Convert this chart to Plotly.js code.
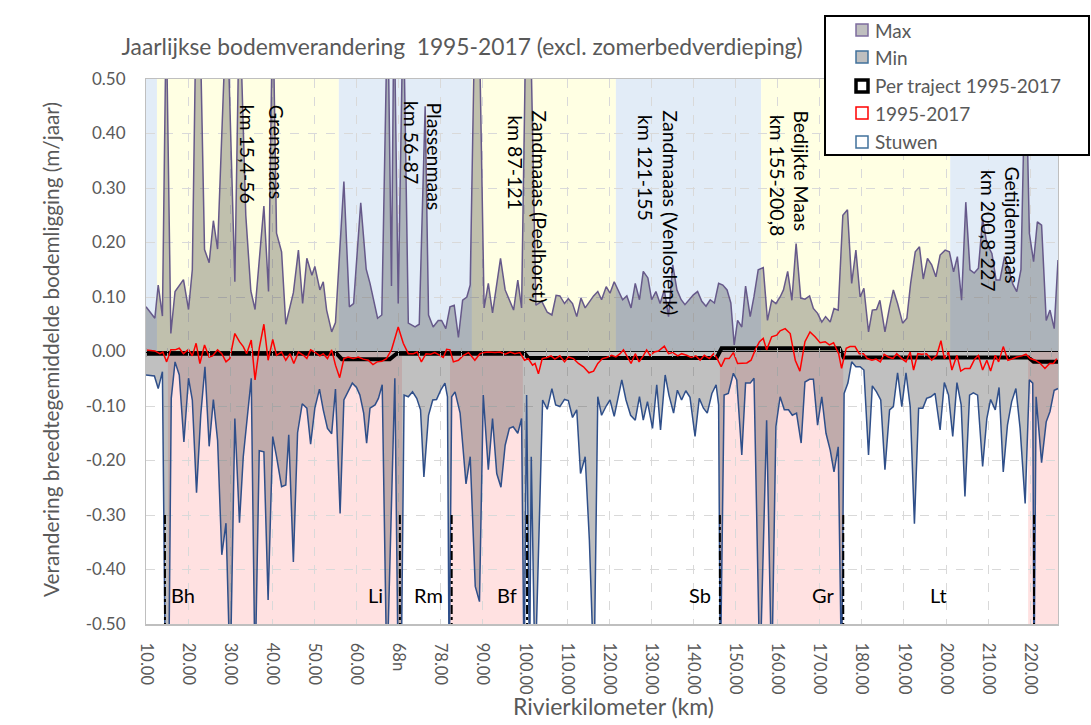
<!DOCTYPE html>
<html><head><meta charset="utf-8">
<script src="https://cdn.plot.ly/plotly-3.0.1.min.js"></script>
<style>html,body{margin:0;padding:0;background:#fff;}#chart{width:1091px;height:725px;}</style>
</head><body><div id="chart"></div>
<script>
// ---- Data (x = position along the category axis, in km-like units) ----
const maxKm = [10.0,12.1,12.9,13.9,14.8,15.9,16.9,17.9,18.9,20.1,21.0,22.0,22.8,23.9,25.0,26.0,27.0,29.2,31.1,32.2,33.7,34.9,35.9,38.0,39.1,40.1,41.0,42.2,43.2,45.0,46.2,47.2,48.2,49.4,50.1,51.3,52.1,52.9,54.1,55.0,57.0,58.3,59.3,61.0,62.3,63.2,65.0,66.0,67.4,68.3,68.9,69.9,71.1,72.3,73.9,74.9,76.3,77.1,78.2,79.4,80.2,81.2,82.2,83.2,84.2,85.2,86.2,87.0,88.6,90.3,91.3,92.3,94.2,95.3,96.3,97.3,98.3,99.2,100.7,102.6,104.0,105.3,106.4,107.4,108.3,109.4,110.3,111.3,112.3,113.3,114.3,115.3,116.3,117.3,118.2,119.3,120.2,121.2,122.2,123.2,124.2,125.2,126.2,127.2,128.1,129.2,130.1,131.1,132.1,133.1,134.1,135.1,136.1,137.1,138.0,139.1,140.0,141.0,142.0,143.0,144.0,145.0,146.0,147.0,148.0,148.9,149.7,150.5,151.5,152.4,153.5,154.4,155.4,156.6,157.6,158.6,159.6,160.6,161.4,162.4,163.4,164.4,165.5,166.5,167.6,168.5,169.5,170.5,171.4,172.5,173.4,174.4,175.5,176.6,177.6,178.6,179.6,180.5,181.6,182.5,183.5,184.3,185.5,186.6,187.5,188.5,189.7,190.7,191.6,192.7,193.7,194.6,195.6,196.6,197.6,198.6,199.8,200.8,201.8,202.7,203.7,204.7,205.7,206.7,207.7,208.7,209.7,210.9,211.9,212.8,213.9,214.8,215.9,216.8,217.8,218.9,219.8,220.8,221.7,222.7,223.8,224.7,225.7,226.6];
const maxVal = [0.082,0.061,0.122,0.065,0.62,0.033,0.110,0.122,0.132,0.077,0.150,0.68,0.62,0.187,0.163,0.240,0.188,0.65,0.128,0.65,0.25,0.111,0.077,0.267,0.110,0.65,0.217,0.183,0.050,0.108,0.186,0.088,0.171,0.140,0.156,0.113,0.128,0.076,0.036,0.053,0.312,0.082,0.088,0.273,0.151,0.125,0.061,0.067,0.65,0.12,0.65,0.088,0.65,0.052,0.045,0.050,0.450,0.067,0.045,0.057,0.057,0.042,0.082,0.085,0.026,0.094,0.100,0.122,0.85,0.080,0.125,0.071,0.171,0.113,0.095,0.076,0.131,0.080,0.85,0.085,0.092,0.072,0.067,0.103,0.102,0.088,0.097,0.088,0.064,0.098,0.080,0.092,0.102,0.110,0.095,0.119,0.107,0.128,0.113,0.095,0.102,0.080,0.125,0.095,0.147,0.135,0.095,0.110,0.088,0.113,0.064,0.159,0.113,0.095,0.086,0.095,0.104,0.110,0.092,0.083,0.095,0.089,0.125,0.122,0.113,0.089,0.012,0.057,0.045,0.120,0.064,0.101,0.150,0.154,0.057,0.094,0.088,0.100,0.113,0.147,0.094,0.198,0.098,0.096,0.102,0.079,0.070,0.054,0.064,0.054,0.079,0.076,0.250,0.260,0.125,0.186,0.100,0.116,0.036,0.076,0.077,0.094,0.036,0.082,0.113,0.088,0.052,0.061,0.125,0.183,0.192,0.133,0.171,0.159,0.137,0.177,0.186,0.183,0.146,0.174,0.094,0.274,0.150,0.144,0.153,0.244,0.198,0.180,0.131,0.131,0.174,0.153,0.123,0.110,0.150,0.55,0.217,0.165,0.238,0.232,0.057,0.076,0.042,0.168];

const minKm = [10.0,11.2,12.0,12.9,13.9,14.6,15.4,16.0,16.9,17.9,19.0,20.1,21.0,22.0,23.0,24.0,25.0,26.0,27.0,28.0,29.0,30.0,31.1,32.2,33.1,35.0,35.9,36.9,38.0,39.0,40.1,41.0,42.2,43.2,43.9,45.0,46.0,47.1,48.2,49.1,50.1,51.2,52.1,53.1,54.1,55.0,56.1,57.0,58.0,59.0,60.0,60.8,61.7,62.4,63.2,64.4,65.2,66.1,67.2,69.1,69.9,70.6,71.3,72.3,73.3,74.3,75.2,76.0,77.1,78.1,79.0,80.0,81.0,81.6,82.0,82.6,83.4,84.6,86.0,87.0,88.2,89.2,90.1,91.3,92.3,93.3,94.3,95.3,96.3,97.2,98.3,99.2,99.8,100.4,101.1,101.5,102.4,104.2,105.3,106.4,107.3,108.3,109.4,110.3,111.3,112.3,113.2,114.3,115.3,116.4,117.3,118.2,119.3,120.2,121.2,122.2,123.0,124.0,125.1,126.2,127.2,128.1,129.1,130.3,131.3,132.2,133.3,134.2,135.3,136.2,137.2,138.2,139.2,140.4,141.4,142.4,143.3,144.4,145.4,146.0,146.4,147.3,148.3,149.5,150.3,151.5,152.4,153.5,154.4,155.8,157.4,158.6,159.6,160.6,161.6,162.6,163.5,164.5,165.6,166.5,167.6,168.5,169.5,170.5,171.5,172.5,173.4,174.4,175.2,175.8,176.7,177.6,178.6,179.6,180.5,181.6,182.5,183.5,184.5,185.5,186.6,187.5,188.5,189.5,190.5,191.5,192.5,193.5,194.5,195.4,196.4,197.4,198.6,199.6,200.6,201.6,202.6,203.6,204.5,205.6,206.5,207.5,208.7,209.7,210.6,211.7,212.6,213.6,214.6,215.6,216.6,217.6,218.8,219.8,220.6,220.9,221.4,222.7,223.8,224.7,225.7,226.6];
const minVal = [-0.043,-0.045,-0.045,-0.068,-0.037,-0.6,-0.6,-0.086,-0.019,-0.043,-0.166,-0.049,-0.089,-0.259,-0.117,-0.028,-0.174,-0.088,-0.163,-0.373,-0.315,-0.6,-0.123,-0.314,-0.193,-0.049,-0.6,-0.182,-0.184,-0.456,-0.156,-0.193,-0.248,-0.245,-0.153,-0.386,-0.149,-0.096,-0.104,-0.170,-0.104,-0.069,-0.107,-0.141,-0.151,-0.069,-0.297,-0.089,-0.074,-0.058,-0.066,-0.080,-0.113,-0.168,-0.104,-0.098,-0.086,-0.061,-0.6,-0.049,-0.6,-0.6,-0.080,-0.083,-0.074,-0.086,-0.107,-0.230,-0.117,-0.089,-0.088,-0.071,-0.058,-0.083,-0.6,-0.083,-0.074,-0.113,-0.243,-0.193,-0.431,-0.459,-0.080,-0.217,-0.123,-0.224,-0.249,-0.172,-0.141,-0.138,-0.150,-0.123,-0.6,-0.080,-0.6,-0.193,-0.6,-0.089,-0.106,-0.068,-0.098,-0.101,-0.088,-0.090,-0.121,-0.107,-0.224,-0.193,-0.346,-0.6,-0.083,-0.117,-0.100,-0.089,-0.119,-0.083,-0.052,-0.089,-0.117,-0.126,-0.083,-0.126,-0.092,-0.141,-0.061,-0.144,-0.043,-0.080,-0.113,-0.071,-0.089,-0.072,-0.084,-0.156,-0.086,-0.104,-0.113,-0.077,-0.061,-0.098,-0.6,-0.080,-0.077,-0.040,-0.052,-0.190,-0.058,-0.058,-0.049,-0.6,-0.126,-0.6,-0.138,-0.083,-0.107,-0.107,-0.117,-0.113,-0.168,-0.056,-0.051,-0.051,-0.135,-0.083,-0.150,-0.181,-0.221,-0.175,-0.6,-0.077,-0.058,-0.019,-0.028,-0.028,-0.034,-0.190,-0.063,-0.074,-0.089,-0.217,-0.107,-0.101,-0.039,-0.101,-0.039,-0.101,-0.316,-0.104,-0.104,-0.086,-0.083,-0.077,-0.144,-0.057,-0.080,-0.156,-0.057,-0.098,-0.266,-0.080,-0.076,-0.080,-0.211,-0.123,-0.088,-0.107,-0.066,-0.221,-0.135,-0.092,-0.068,-0.141,-0.279,-0.052,-0.058,-0.6,-0.083,-0.204,-0.129,-0.110,-0.071,-0.068];

const redKm = [10.0,12.1,13.3,14.0,14.9,15.9,16.9,17.9,18.9,20.1,21.0,21.9,22.8,23.9,25.0,25.8,27.0,28.0,29.0,29.9,31.1,32.2,33.1,33.9,35.0,35.9,36.9,38.0,39.0,40.1,41.0,42.2,43.2,44.2,45.1,46.2,47.4,48.2,49.1,50.1,51.3,52.1,53.1,54.1,55.0,56.0,57.0,58.0,59.2,60.4,61.6,62.8,63.9,64.9,66.0,67.1,68.3,69.9,71.1,72.3,73.5,74.4,75.4,76.5,77.6,78.6,79.8,80.6,81.4,82.2,83.0,84.2,85.4,86.6,88.1,89.3,90.4,91.3,92.9,94.1,95.3,96.5,97.6,98.8,99.9,100.8,101.8,102.4,103.2,104.1,105.2,106.2,107.1,108.3,109.4,110.3,111.5,112.7,113.9,115.2,116.3,117.3,118.4,119.4,120.6,121.6,122.6,123.4,124.4,125.2,126.2,127.1,128.1,128.9,129.7,130.7,131.7,133.1,134.1,135.1,136.3,137.2,138.4,139.5,140.6,141.6,142.6,143.8,144.8,145.5,146.6,147.5,148.5,149.5,150.5,151.5,152.7,153.7,154.7,155.7,156.6,157.4,158.6,159.8,160.6,161.8,163.0,164.2,165.3,166.5,167.7,168.9,170.1,171.3,172.3,173.3,174.5,175.2,176.3,177.2,178.4,179.4,180.4,181.3,182.4,183.4,184.4,185.3,186.3,187.4,188.3,189.5,190.5,191.5,192.3,193.3,194.2,195.4,196.6,197.8,198.8,199.6,200.6,201.4,202.6,203.5,204.5,205.7,206.8,207.7,208.7,209.7,210.6,211.7,212.5,213.6,214.7,215.6,216.8,218.0,219.0,220.0,221.2,222.4,223.5,224.6,225.5,226.3];
const redVal = [0.003,0.001,-0.004,-0.001,-0.019,0.003,0.003,0.006,-0.004,0.004,-0.008,0.015,-0.022,0.012,-0.010,-0.008,0.003,-0.004,-0.019,-0.013,0.033,0.018,0.009,-0.004,0.021,-0.052,0.006,0.050,-0.016,0.022,-0.007,-0.001,-0.016,-0.004,-0.022,-0.001,-0.007,-0.013,0.003,-0.001,-0.008,-0.004,-0.013,0.003,-0.025,-0.048,-0.013,-0.010,-0.013,-0.010,-0.014,-0.016,-0.024,-0.019,-0.018,-0.013,0.003,0.045,0.015,-0.004,-0.004,-0.001,-0.019,-0.004,-0.005,-0.002,-0.007,-0.011,0.004,0.003,-0.019,-0.016,-0.007,-0.002,-0.016,-0.004,-0.002,-0.001,-0.002,-0.001,-0.005,-0.001,-0.004,-0.002,-0.016,-0.013,-0.025,-0.022,-0.041,-0.013,-0.011,-0.008,-0.014,-0.008,-0.019,-0.010,-0.013,-0.022,-0.028,-0.039,-0.036,-0.022,-0.013,-0.011,-0.007,-0.010,-0.004,0.003,-0.011,-0.022,-0.004,-0.019,-0.008,0.003,-0.007,-0.001,0.001,0.010,-0.004,-0.002,-0.008,-0.004,-0.007,-0.011,-0.008,-0.016,-0.007,-0.013,-0.004,-0.011,-0.028,-0.013,-0.013,-0.002,-0.022,-0.021,-0.021,-0.016,0.003,0.018,0.024,0.003,0.027,0.030,0.038,0.042,0.033,-0.016,-0.036,0.018,0.036,0.027,0.016,0.018,0.012,0.016,-0.004,-0.031,0.006,0.009,0.009,-0.004,-0.004,-0.013,-0.016,-0.014,-0.019,-0.005,-0.010,-0.013,-0.004,-0.013,-0.019,-0.001,-0.034,-0.004,-0.005,-0.004,-0.016,-0.007,0.020,-0.013,-0.001,-0.034,-0.007,-0.036,-0.031,-0.031,-0.014,-0.007,-0.034,-0.016,-0.036,-0.007,-0.019,0.009,-0.016,-0.014,-0.010,-0.008,-0.005,-0.013,-0.016,-0.022,-0.031,-0.022,-0.022,-0.013];

const trajKm  = [10, 55.3, 56.5, 67.9, 69.5, 100.0, 100.8, 145.5, 146.7, 174.7, 175.7, 219.6, 220.8, 226.6];
const trajVal = [-0.004,-0.004,-0.014,-0.014,-0.004,-0.004,-0.012,-0.012,0.006,0.006,-0.011,-0.011,-0.019,-0.019];

const weirKm    = [14.5, 70.3, 82.6, 100.5, 146.3, 175.6, 220.9];
const weirNames = ['Bh', 'Li', 'Rm', 'Bf', 'Sb', 'Gr', 'Lt'];
const weirLabelKm = [18.8, 64.6, 77.2, 95.7, 141.6, 170.8, 198.1];

const reachStart = [10, 12.6, 55.8, 87.4, 121.6, 156.1, 201.0];
const reachEnd   = [12.6, 55.8, 87.4, 121.6, 156.1, 201.0, 226.6];
const reachKind  = ['b', 'y', 'b', 'y', 'b', 'y', 'b'];
const pinkStart = [15.2, 82.2, 146.3, 219.5];
const pinkEnd   = [70.8, 99.5, 175.6, 226.6];

const reachLabels = ['km 15,4-56','Grensmaas','km 56-87','Plassenmaas','km 87-121','Zandmaaas (Peelhorst)','km 121-155','Zandmaaas (Venloslenk)','km 155-200,8','Bedijkte Maas','km 200,8-227','Getijdenmaas'];
const reachLabelKm = [34.2, 40.9, 72.9, 78.6, 97.9, 103.6, 128.5, 134.7, 159.9, 165.8, 210.0, 215.7];
const reachLabelTop = [0.456, 0.456, 0.463, 0.461, 0.438, 0.447, 0.438, 0.447, 0.438, 0.447, 0.337, 0.344];

const xTickVals = [10,20,30,40,50,60,70,80,90,100,110,120,130,140,150,160,170,180,190,200,210,220];
const xTickText = ['10.00','20.00','30.00','40.00','50.00','60.00','68n','78.00','90.00','100.00','110.00','120.00','130.00','140.00','150.00','160.00','170.00','180.00','190.00','200.00','210.00','220.00'];
const yTickVals = [-0.5,-0.4,-0.3,-0.2,-0.1,0,0.1,0.2,0.3,0.4,0.5];
const yTickText = ['-0.50','-0.40','-0.30','-0.20','-0.10','0.00','0.10','0.20','0.30','0.40','0.50'];

const legendNames = ['Max','Min','Per traject 1995-2017','1995-2017','Stuwen'];

// ---- Layout helpers (pixel -> paper) ----
const L = 146, R = 1058, T = 79, B = 624;
const PX = x => (x - L) / (R - L);
const PY = y => (B - y) / (B - T);

const GRAYFILL = 'rgba(60,60,60,0.32)';
const YEL = '#FFFFE3', BLU = '#E2ECF7', PINK = '#FFE1E1';

// weir dashed markers
const wx = [], wy = [];
weirKm.forEach(k => { wx.push(k, k, null); wy.push(-0.3, -0.55, null); });

const traces = [
  {x: maxKm, y: maxVal, type: 'scatter', mode: 'lines', fill: 'tozeroy', fillcolor: GRAYFILL,
   line: {color: '#66598A', width: 1.5}, name: 'Max'},
  {x: minKm, y: minVal, type: 'scatter', mode: 'lines', fill: 'tozeroy', fillcolor: GRAYFILL,
   line: {color: '#2F4F8A', width: 1.5}, name: 'Min'},
  {x: trajKm, y: trajVal, type: 'scatter', mode: 'lines', line: {color: '#000', width: 4}, name: 'Per traject 1995-2017'},
  {x: redKm, y: redVal, type: 'scatter', mode: 'lines', line: {color: '#FF0000', width: 1.5}, name: '1995-2017'},
  {x: wx, y: wy, type: 'scatter', mode: 'lines', line: {color: '#000', width: 2, dash: 'dashdot'}, name: 'Stuwen'},
  {x: [10], y: [0], xaxis: 'x2', type: 'scatter', mode: 'markers', marker: {opacity: 0}, hoverinfo: 'skip'},
  {x: [10], y: [0], xaxis: 'x3', type: 'scatter', mode: 'markers', marker: {opacity: 0}, hoverinfo: 'skip'}
];

const shapes = [];
reachStart.forEach((s, i) => shapes.push({type: 'rect', xref: 'x', yref: 'y', layer: 'below',
  x0: s, x1: reachEnd[i], y0: 0, y1: 0.5, fillcolor: reachKind[i] === 'y' ? YEL : BLU, line: {width: 0}}));
pinkStart.forEach((s, i) => shapes.push({type: 'rect', xref: 'x', yref: 'y', layer: 'below',
  x0: s, x1: pinkEnd[i], y0: -0.5, y1: 0, fillcolor: PINK, line: {width: 0}}));

// manual legend
shapes.push({type: 'rect', xref: 'paper', yref: 'paper', layer: 'above',
  x0: PX(825), x1: PX(1089), y0: PY(155), y1: PY(16), fillcolor: '#fff', line: {color: '#000', width: 2}});
const legY = [30, 57, 86, 113, 142];
const legFill = ['#BFBFBF', '#BFBFBF', '#fff', '#fff', '#fff'];
const legLine = ['#7E6C9E', '#41719C', '#000', '#FF0000', '#41719C'];
const legW = [1.5, 1.5, 3.5, 1.5, 1.5];
legY.forEach((c, i) => shapes.push({type: 'rect', xref: 'paper', yref: 'paper', layer: 'above',
  x0: PX(856), x1: PX(868), y0: PY(c + 6), y1: PY(c - 6), fillcolor: legFill[i], line: {color: legLine[i], width: legW[i]}}));

const annotations = [];
legendNames.forEach((n, i) => annotations.push({xref: 'paper', yref: 'paper', x: PX(873), y: PY(legY[i]),
  xanchor: 'left', yanchor: 'middle', text: n, showarrow: false, font: {size: 19, color: '#595959'}}));
reachLabels.forEach((t, i) => annotations.push({xref: 'x', yref: 'y', x: reachLabelKm[i], y: reachLabelTop[i],
  xanchor: 'center', yanchor: 'top', text: t, textangle: 90, showarrow: false, font: {size: 19.5, color: '#000'}}));
weirNames.forEach((t, i) => annotations.push({xref: 'x', yref: 'y', x: weirLabelKm[i], y: -0.446,
  xanchor: 'center', yanchor: 'middle', text: t, showarrow: false, font: {size: 20, color: '#000'}}));
annotations.push({xref: 'paper', yref: 'paper', x: PX(50), y: PY(350), xanchor: 'center', yanchor: 'middle', textangle: -90,
  text: 'Verandering breedtegemiddelde bodemligging (m/jaar)', showarrow: false, font: {size: 20.8, color: '#595959'}});
annotations.push({xref: 'paper', yref: 'paper', x: PX(613), y: PY(706), xanchor: 'center', yanchor: 'middle',
  text: 'Rivierkilometer (km)', showarrow: false, font: {size: 23, color: '#595959'}});

const axisCommon = {range: [10, 226.6], showgrid: false, zeroline: false, showline: false, showticklabels: false,
  tickmode: 'linear', tick0: 0, dtick: 5, ticks: 'outside', ticklen: 4, tickcolor: '#A6A6A6', overlaying: 'x', anchor: 'free', position: 0.5};

const layout = {
  width: 1091, height: 725,
  margin: {l: L, r: 1091 - R, t: T, b: 725 - B, pad: 0},
  paper_bgcolor: '#fff', plot_bgcolor: '#fff',
  showlegend: false,
  font: {family: 'Lato, "Open Sans", sans-serif', color: '#595959'},
  title: {text: 'Jaarlijkse bodemverandering  1995-2017 (excl. zomerbedverdieping)', x: 462 / 1091, xanchor: 'center',
    y: 1 - 47 / 725, yanchor: 'middle', font: {size: 22.8, color: '#595959'}},
  xaxis: {range: [10, 226.6], tickmode: 'array', tickvals: xTickVals, ticktext: xTickText, tickangle: 90,
    showgrid: true, gridcolor: '#D9D9D9', griddash: 'dash', gridwidth: 1, zeroline: false,
    showline: true, linecolor: '#BFBFBF', linewidth: 1.5, mirror: true, ticks: '',
    tickfont: {size: 16.5, color: '#595959'}, ticklabelstandoff: 14},
  xaxis2: Object.assign({}, axisCommon, {side: 'bottom'}),
  xaxis3: Object.assign({}, axisCommon, {side: 'top'}),
  yaxis: {range: [-0.5, 0.5], tickmode: 'array', tickvals: yTickVals, ticktext: yTickText,
    showgrid: true, gridcolor: '#D9D9D9', griddash: 'dash', zeroline: true, zerolinecolor: '#000', zerolinewidth: 1,
    showline: true, linecolor: '#BFBFBF', linewidth: 1, mirror: true, ticks: '',
    tickfont: {size: 17, color: '#595959'}, ticklabelstandoff: 16},
  shapes: shapes,
  annotations: annotations
};

Plotly.newPlot('chart', traces, layout, {staticPlot: true, displayModeBar: false});
</script>
</body></html>
